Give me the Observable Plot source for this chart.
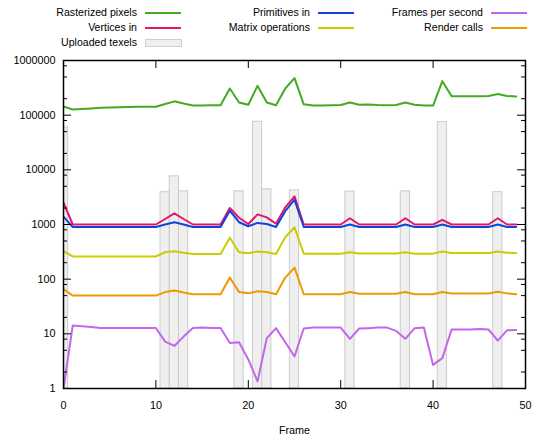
<!DOCTYPE html>
<html>
<head>
<meta charset="utf-8">
<script src="https://cdn.jsdelivr.net/npm/d3@7"></script>
<script src="https://cdn.jsdelivr.net/npm/@observablehq/plot@0.6"></script>
<style>
  html, body { margin: 0; padding: 0; background: #fff; }
  #wrap { position: relative; width: 558px; height: 438px; font-family: "Liberation Sans", Arial, sans-serif; font-size: 10.6px; color: #000; }
  #wrap svg { position: absolute; left: 0; top: 0; }
  .lg-text { position: absolute; white-space: nowrap; text-align: right; line-height: 12px; }
  .lg-line { position: absolute; height: 2px; }
  .lg-box { position: absolute; background: #efefef; border: 1px solid #cfcfcf; box-sizing: border-box; }
</style>
</head>
<body>
<div id="wrap"></div>
<script>
// ---- data ----
const frames = d3.range(0, 50);
const rasterizedPixels = [144000,127000,130000,133000,136000,138000,140000,141000,142000,143000,
  143000,160000,179000,163000,150000,151000,152000,152000,308000,171000,
  155000,344000,171000,152000,308000,475000,158000,150000,151000,152000,
  153000,170000,155000,156000,153000,152000,153000,170000,155000,150000,
  150000,419000,223000,223000,223000,223000,224000,243000,224000,220000];
const verticesIn = [2500,1000,1000,1000,1000,1000,1000,1000,1000,1000,
  1000,1260,1600,1260,1000,1000,1000,1000,2000,1330,
  1020,1530,1350,1030,2060,3280,1000,1000,1000,1000,
  1000,1300,1000,1000,1000,1000,1000,1300,1000,1000,
  1000,1220,1000,1000,1000,1000,1000,1300,1000,1000];
const primitivesIn = [1390,900,900,900,900,900,900,900,900,900,
  900,1000,1100,1000,900,900,900,900,1790,1100,
  930,1070,1020,900,1750,2840,900,900,900,900,
  900,1000,900,900,900,900,900,1000,900,900,
  900,1000,900,900,900,900,900,1000,900,900];
const matrixOperations = [326,260,260,260,260,260,260,260,260,260,
  260,311,324,305,290,290,290,290,574,311,
  298,320,311,289,584,889,293,293,293,293,
  293,311,296,296,296,296,296,311,293,293,
  293,320,300,300,300,300,300,320,305,300];
const renderCalls = [66,50,50,50,50,50,50,50,50,50,
  50,58,62,57,53,53,53,53,107,58,
  55,60,58,53,107,163,53,53,53,53,
  53,58,54,54,54,54,54,58,53,53,
  53,58,54.5,54.5,54.5,54.5,54.5,59,55,53];
const framesPerSecond = [1,14.2,13.8,13.3,12.8,12.8,12.8,12.8,12.8,12.8,
  12.8,7.2,6.0,8.9,12.8,13.1,12.8,12.8,6.8,7.0,
  3.4,1.35,8.3,12.7,7.0,3.85,12.5,13,13,13,
  13,8.1,12.5,12.7,13,13,11.3,8.1,12.7,13,
  2.7,3.6,12,12,12,12.2,12,7.5,11.6,11.8];
const texelFrames = [0,11,12,13,19,21,22,25,31,37,41,47];
const uploadedTexels = [60000,3900,7600,4050,4050,75700,4400,4200,4000,4050,74600,3900];

const xTicks = [0,10,20,30,40,50];
const yMajor = [1,10,100,1000,10000,100000,1000000];
const yMinor = [2,5,8,20,50,80,200,500,800,2000,5000,8000,20000,50000,80000,200000,500000,800000];

const seriesNames = ["Rasterized pixels","Vertices in","Primitives in","Matrix operations","Frames per second","Render calls"];
const seriesValues = [rasterizedPixels, verticesIn, primitivesIn, matrixOperations, framesPerSecond, renderCalls];
const seriesColors = ["#44aa22","#e3166a","#1144d8","#cccc00","#c466ec","#ee9a00"];

// ---- layout ----
const W = 558, H = 438, mL = 63, mR = 33, mT = 60, mB = 50;
const pw = W - mL - mR, ph = H - mT - mB;

const lineData = [];
seriesNames.forEach((name, i) => frames.forEach((f, j) => lineData.push({series: name, frame: f, value: seriesValues[i][j]})));
const barData = texelFrames.map((f, i) => ({frame: f, value: uploadedTexels[i]}));

const chart = Plot.plot({
  width: W, height: H,
  marginLeft: mL, marginRight: mR, marginTop: mT, marginBottom: mB,
  style: {fontFamily: "'Liberation Sans', Arial, sans-serif", fontSize: "10.8px", background: "transparent", overflow: "visible"},
  x: {domain: [0, 50]},
  y: {type: "log", domain: [1, 1000000]},
  color: {domain: seriesNames, range: seriesColors},
  marks: [
    Plot.rect(barData, {x1: d => d.frame - 0.5, x2: d => d.frame + 0.5, y1: 1, y2: "value", fill: "#efefef", stroke: "#cbcbcb", strokeWidth: 1, clip: true}),
    Plot.line(lineData, {x: "frame", y: "value", z: "series", stroke: "series", strokeWidth: 2, clip: true}),
    // ticks (inward)
    Plot.tickX(xTicks, {insetTop: ph - 8, stroke: "#000"}),
    Plot.tickX(xTicks, {insetBottom: ph - 8, stroke: "#000"}),
    Plot.tickY(yMajor, {insetRight: pw - 8, stroke: "#000"}),
    Plot.tickY(yMajor, {insetLeft: pw - 8, stroke: "#000"}),
    Plot.tickY(yMinor, {insetRight: pw - 4, stroke: "#000"}),
    Plot.tickY(yMinor, {insetLeft: pw - 4, stroke: "#000"}),
    Plot.axisY({ticks: yMajor, tickSize: 0, tickPadding: 8, tickFormat: d3.format("d"), label: null}),
    Plot.axisX({ticks: xTicks, tickSize: 0, tickPadding: 13, tickFormat: d3.format("d"), label: "Frame", labelAnchor: "center", labelArrow: "none", labelOffset: 45}),
    Plot.frame({stroke: "#000", strokeWidth: 1.5})
  ]
});

const wrap = document.getElementById("wrap");
wrap.appendChild(chart);

// ---- legend (HTML above the plot area) ----
const colTextRight = [137, 310, 483];
const colSample = [145, 318, 491];
const rowY = [12.5, 27.5, 42.5];
const legendItems = [
  {name: seriesNames[0], color: seriesColors[0], col: 0, row: 0},
  {name: seriesNames[1], color: seriesColors[1], col: 0, row: 1},
  {name: "Uploaded texels", box: true, col: 0, row: 2},
  {name: seriesNames[2], color: seriesColors[2], col: 1, row: 0},
  {name: seriesNames[3], color: seriesColors[3], col: 1, row: 1},
  {name: seriesNames[4], color: seriesColors[4], col: 2, row: 0},
  {name: seriesNames[5], color: seriesColors[5], col: 2, row: 1}
];
legendItems.forEach(it => {
  const t = document.createElement("div");
  t.className = "lg-text";
  t.textContent = it.name;
  t.style.right = (W - colTextRight[it.col]) + "px";
  t.style.top = (rowY[it.row] - 6.5) + "px";
  wrap.appendChild(t);
  if (it.box) {
    const b = document.createElement("div");
    b.className = "lg-box";
    b.style.left = colSample[it.col] + "px";
    b.style.top = (rowY[it.row] - 4) + "px";
    b.style.width = "37px";
    b.style.height = "8px";
    wrap.appendChild(b);
  } else {
    const l = document.createElement("div");
    l.className = "lg-line";
    l.style.left = colSample[it.col] + "px";
    l.style.top = (rowY[it.row] - 1) + "px";
    l.style.width = "36px";
    l.style.background = it.color;
    wrap.appendChild(l);
  }
});
</script>
</body>
</html>
